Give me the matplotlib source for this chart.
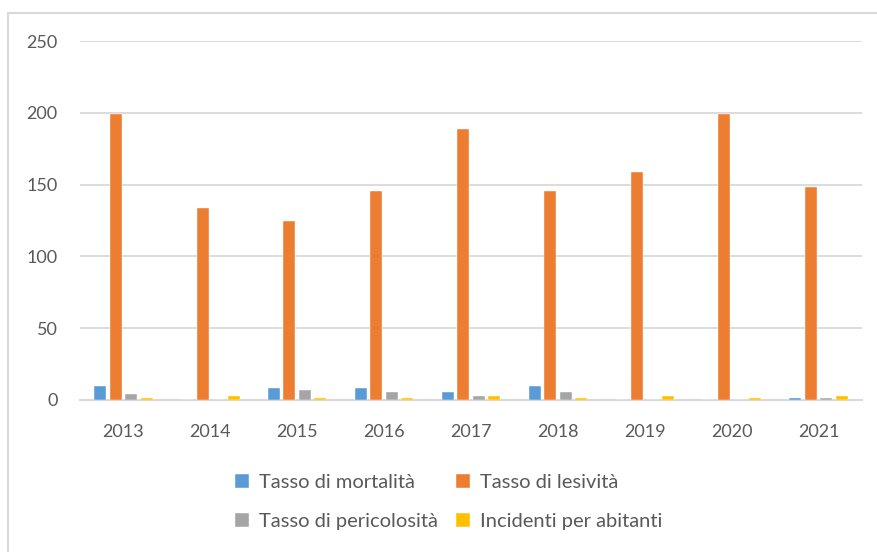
import numpy as np
import matplotlib.pyplot as plt
from matplotlib.patches import Rectangle

anni = ['2013', '2014', '2015', '2016', '2017', '2018', '2019', '2020', '2021']
mortalita = [9.7, 0, 8.1, 8.1, 5.6, 9.7, 0, 0, 1.4]
lesivita = [199, 133.7, 124.7, 145.5, 188.7, 145.5, 158.8, 199, 148.3]
pericolosita = [4.2, 0, 7.0, 5.6, 3.0, 5.6, 0, 0, 1.4]
incidenti = [1.4, 3.0, 1.4, 1.4, 3.0, 1.4, 3.0, 1.4, 3.0]

serie = [
    ('Tasso di mortalità', mortalita, '#5B9BD5'),
    ('Tasso di lesività', lesivita, '#ED7D31'),
    ('Tasso di pericolosità', pericolosita, '#A5A5A5'),
    ('Incidenti per abitanti', incidenti, '#FFC000'),
]

plt.rcParams['font.family'] = ['Lato', 'DejaVu Sans']
testo = '#595959'

fig = plt.figure(figsize=(8.77, 5.52), dpi=100)
ax = fig.add_axes([80 / 877, 1 - 400 / 552, 782 / 877, 359 / 552])

# bordo del grafico (solo lato sinistro e superiore visibili)
fig.patches.append(Rectangle((8 / 877, -0.1), 1.2, 1 - 13 / 552 + 0.1,
                             transform=fig.transFigure, fill=False,
                             edgecolor='#D9D9D9', linewidth=1.5))

x = np.arange(len(anni))
passo = 0.178
larghezza = 0.138
barre = []
for i, (nome, valori, colore) in enumerate(serie):
    b = ax.bar(x + (i - 1.5) * passo, valori, larghezza, color=colore, label=nome,
               edgecolor='white', linewidth=0.3, zorder=3)
    barre.append(b)

ax.set_xlim(-0.5, len(anni) - 0.5)
ax.set_ylim(0, 250)
ax.set_yticks(range(0, 251, 50))
ax.set_xticks(x)
ax.set_xticklabels(anni)
ax.yaxis.grid(True, color='#D9D9D9', linewidth=1.3, zorder=0)
ax.set_axisbelow(True)
for lato in ['top', 'right', 'left']:
    ax.spines[lato].set_visible(False)
ax.spines['bottom'].set_color('#D9D9D9')
ax.spines['bottom'].set_linewidth(1.5)
ax.tick_params(axis='both', length=0, labelsize=13, colors=testo)
ax.tick_params(axis='x', pad=17)
ax.tick_params(axis='y', pad=16)

# ordine per righe: mortalità, lesività / pericolosità, incidenti
ordine = [0, 2, 1, 3]
leg = fig.legend([barre[k] for k in ordine], [serie[k][0] for k in ordine],
                 loc='center', bbox_to_anchor=(449 / 877, 1 - 502 / 552), ncol=2,
                 frameon=False, fontsize=14.5, handlelength=0.7, handleheight=0.7,
                 handletextpad=0.5, columnspacing=0.9, labelspacing=1.1)
for t in leg.get_texts():
    t.set_color(testo)

plt.savefig('out.png', dpi=100)
